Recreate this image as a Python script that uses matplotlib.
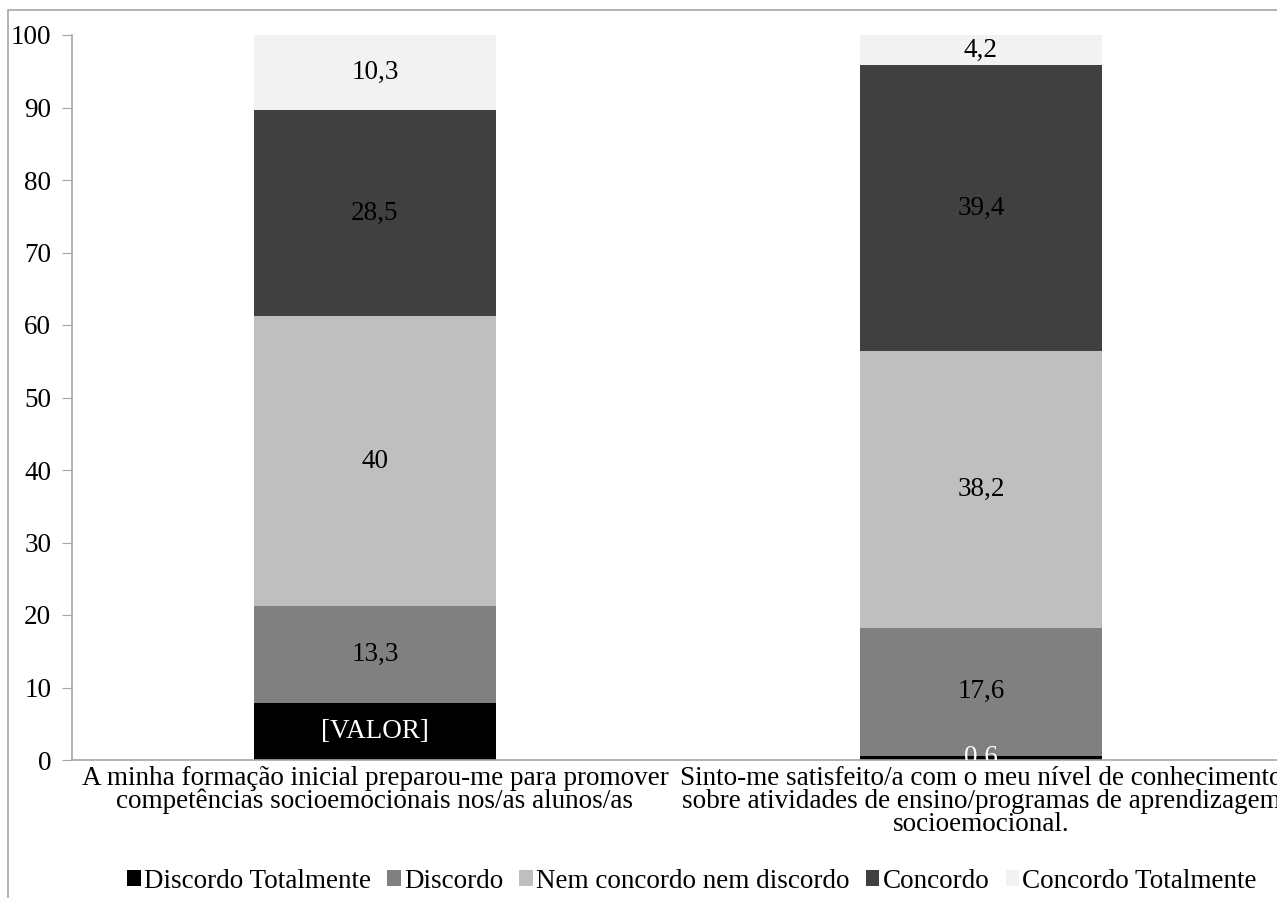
import numpy as np
import matplotlib.pyplot as plt
from matplotlib.patches import Rectangle

plt.rcParams['font.family'] = ['Liberation Serif', 'DejaVu Serif']

# survey items (x axis)
items = [
    'A minha formação inicial preparou-me para promover\ncompetências socioemocionais nos/as alunos/as',
    'Sinto-me satisfeito/a com o meu nível de conhecimento\nsobre atividades de ensino/programas de aprendizagem\nsocioemocional.',
]

# response shares (%) per item
discordo_totalmente = [7.9, 0.6]
discordo = [13.3, 17.6]
nem_nem = [40.0, 38.2]
concordo = [28.5, 39.4]
concordo_totalmente = [10.3, 4.2]

series_names = ['Discordo Totalmente', 'Discordo', 'Nem concordo nem discordo',
                'Concordo', 'Concordo Totalmente']
series_colors = ['#000000', '#808080', '#BFBFBF', '#404040', '#F2F2F2']
label_colors = ['white', 'black', 'black', 'black', 'black']
# first label of the bottom series was left as the Excel placeholder
first_labels = ['[VALOR]', '0,6']

FS = 19.5

fig = plt.figure(figsize=(12.77, 8.98), dpi=100)
ax = fig.add_axes([72 / 1277, 1 - 760 / 898, 1212 / 1277, 725 / 898])

# chart-area border
fig.patches.append(Rectangle((8 / 1277, -0.1), 1.2, 1 - 10 / 898 + 0.1,
                             transform=fig.transFigure, fill=False,
                             edgecolor='#A6A6A6', linewidth=1.2))

x = np.arange(len(items))
bottom = np.zeros(len(items))
all_series = [discordo_totalmente, discordo, nem_nem, concordo, concordo_totalmente]
for i, (vals, name, col) in enumerate(zip(all_series, series_names, series_colors)):
    vals = np.array(vals)
    ax.bar(x, vals, width=0.4, bottom=bottom, color=col, label=name)
    if i == 0:
        labels = first_labels
    else:
        labels = [f'{v:g}'.replace('.', ',') for v in vals]
    for xi, b, v, lab in zip(x, bottom, vals, labels):
        ax.text(xi, b + v / 2, lab, ha='center', va='center', fontsize=FS,
                color=label_colors[i], clip_on=True)
    bottom += vals

ax.set_xlim(-0.5, 1.5)
ax.set_ylim(0, 100)
ax.set_yticks(np.arange(0, 101, 10))
ax.set_xticks(x)
ax.set_xticklabels(items, fontsize=FS, linespacing=0.9)
ax.tick_params(axis='x', length=0, pad=4)
ax.tick_params(axis='y', labelsize=FS, length=7, color='#A6A6A6', pad=8)

for s in ['top', 'right']:
    ax.spines[s].set_visible(False)
for s in ['left', 'bottom']:
    ax.spines[s].set_color('#A6A6A6')
    ax.spines[s].set_linewidth(1.2)

fig.legend(loc='center', bbox_to_anchor=(692 / 1277, 1 - 881 / 898), ncol=5,
           frameon=False, fontsize=FS, handlelength=0.5, handleheight=0.5,
           handletextpad=0.12, columnspacing=0.6, borderpad=0)

fig.savefig('out.png', dpi=100)
